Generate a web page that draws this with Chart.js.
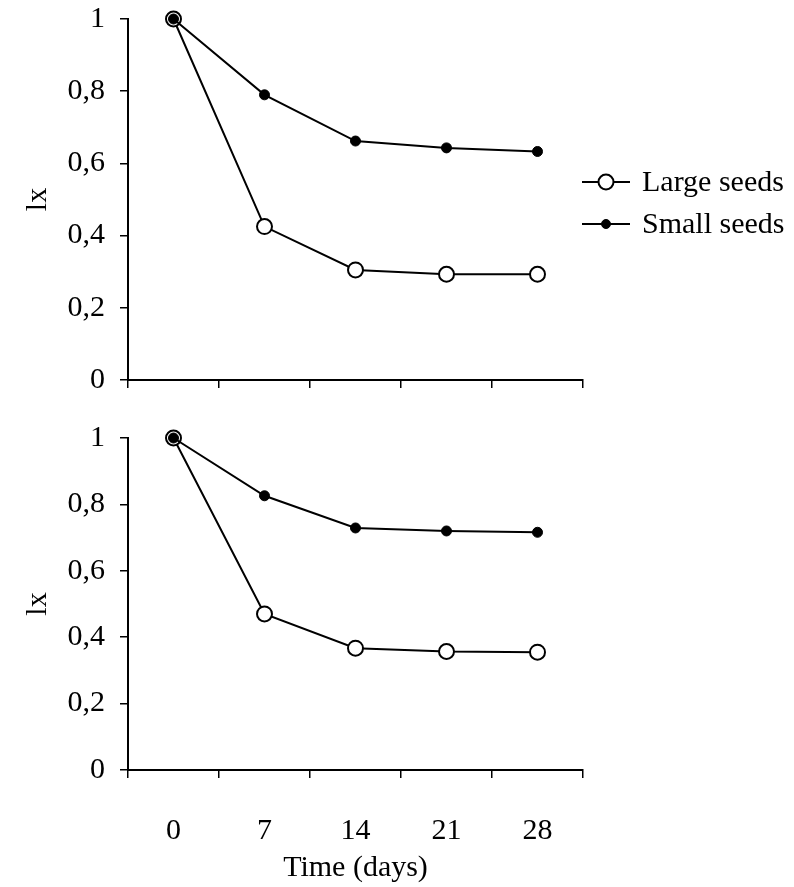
<!DOCTYPE html>
<html>
<head>
<meta charset="utf-8">
<script src="https://cdn.jsdelivr.net/npm/chart.js@4/dist/chart.umd.min.js"></script>
<style>
    body { margin: 0; background: white; }
    #wrap { position: relative; width: 794px; height: 887px; overflow: hidden; }
    canvas { position: absolute; left: 0; }
    /* Chart.js keeps ~33px above the plot for the "1" label, so the canvases are shifted up */
    #top-chart { top: -14px; }
    #bottom-chart { top: 405px; }
</style>
</head>
<body>
<div id="wrap">
    <canvas id="top-chart" width="794" height="434"></canvas>
    <canvas id="bottom-chart" width="794" height="482"></canvas>
</div>
<script>
const days = ["0", "7", "14", "21", "28"]
const seriesNames = ["Large seeds", "Small seeds"]

// upper panel
const topLarge = [1, 0.425, 0.305, 0.293, 0.293]
const topSmall = [1, 0.79, 0.662, 0.643, 0.633]

// lower panel
const bottomLarge = [1, 0.47, 0.367, 0.357, 0.355]
const bottomSmall = [1, 0.826, 0.729, 0.72, 0.716]

const yTicks = [0, 0.2, 0.4, 0.6, 0.8, 1]

const FONT = "'Liberation Serif', 'Times New Roman', serif"
const FONT_SIZE = 30

function whiteBackgroundPlugin() {
    return {
        id: "whiteBackground",
        beforeDraw: (chart) => {
            const { ctx, canvas } = chart
            ctx.save()
            ctx.globalCompositeOperation = "destination-over"
            ctx.fillStyle = "white"
            ctx.fillRect(0, 0, canvas.width, canvas.height)
            ctx.restore()
        }
    }
}

function drawMarker(ctx, ds, x, y, r) {
    ctx.beginPath()
    ctx.arc(x, y, r, 0, Math.PI * 2)
    ctx.fillStyle = ds.pointBackgroundColor
    ctx.fill()
    ctx.lineWidth = ds.pointBorderWidth
    ctx.strokeStyle = ds.pointBorderColor
    ctx.stroke()
}

// line-with-marker legend, like the original figure
function sideLegendPlugin() {
    return {
        id: "sideLegend",
        afterDraw: (chart, args, options) => {
            if (!options || !options.display) return
            const ctx = chart.ctx
            const rows = [...chart.data.datasets].sort((a, b) => a.legendIndex - b.legendIndex)

            ctx.save()
            rows.forEach((ds, i) => {
                const y = options.y + i * options.rowGap
                ctx.beginPath()
                ctx.moveTo(options.x, y)
                ctx.lineTo(options.x + options.lineLength, y)
                ctx.lineWidth = ds.borderWidth
                ctx.strokeStyle = ds.borderColor
                ctx.stroke()
                drawMarker(ctx, ds, options.x + options.lineLength / 2, y, ds.legendRadius)

                ctx.fillStyle = "#000"
                ctx.font = `${FONT_SIZE}px ${FONT}`
                ctx.textAlign = "left"
                ctx.textBaseline = "middle"
                ctx.fillText(ds.label, options.x + options.lineLength + 12, y + 1)
            })
            ctx.restore()
        }
    }
}

function fmtTick(v) {
    const r = Math.round(v * 10) / 10
    return String(r).replace(".", ",")
}

function buildDatasets(large, small) {
    return [
        {
            label: seriesNames[0],
            legendIndex: 0,
            data: large,
            order: 2,
            borderColor: "#000",
            borderWidth: 2,
            pointRadius: 7.5,
            pointBorderWidth: 2,
            pointBackgroundColor: "#fff",
            pointBorderColor: "#000",
            legendRadius: 7.5,
            tension: 0,
            clip: false
        },
        {
            label: seriesNames[1],
            legendIndex: 1,
            data: small,
            order: 1,
            borderColor: "#000",
            borderWidth: 2,
            pointRadius: 5,
            pointBorderWidth: 1,
            pointBackgroundColor: "#000",
            pointBorderColor: "#000",
            legendRadius: 4.5,
            tension: 0,
            clip: false
        }
    ]
}

function makeChart(canvasId, large, small, cfg) {
    const canvas = document.getElementById(canvasId)

    return new Chart(canvas.getContext("2d"), {
        type: "line",
        data: { labels: days, datasets: buildDatasets(large, small) },
        options: {
            responsive: false,
            animation: false,
            layout: { padding: { left: 0, right: 211, top: 0, bottom: 0 } },
            plugins: {
                legend: { display: false },
                tooltip: { enabled: false },
                sideLegend: cfg.legend
            },
            scales: {
                x: {
                    type: "category",
                    offset: true,
                    grid: {
                        offset: true,
                        drawOnChartArea: false,
                        drawTicks: true,
                        tickLength: 8,
                        color: "#000",
                        lineWidth: 1.5
                    },
                    border: { display: true, color: "#000", width: 2 },
                    ticks: {
                        display: cfg.showXLabels,
                        color: "#000",
                        padding: 35,
                        font: { family: FONT, size: FONT_SIZE }
                    },
                    title: {
                        display: cfg.showXLabels,
                        text: "Time (days)",
                        color: "#000",
                        padding: { top: 0, bottom: 1 },
                        font: { family: FONT, size: FONT_SIZE }
                    },
                    afterFit: (scale) => { scale.height = cfg.xHeight }
                },
                y: {
                    min: 0,
                    max: 1,
                    afterBuildTicks: (scale) => { scale.ticks = yTicks.map(v => ({ value: v })) },
                    grid: {
                        drawOnChartArea: false,
                        drawTicks: true,
                        tickLength: 8,
                        color: "#000",
                        lineWidth: 1.5
                    },
                    border: { display: true, color: "#000", width: 2 },
                    ticks: {
                        color: "#000",
                        padding: 15,
                        font: { family: FONT, size: FONT_SIZE },
                        callback: (v) => fmtTick(v)
                    },
                    title: {
                        display: true,
                        text: "lx",
                        color: "#000",
                        padding: { top: 20, bottom: 0 },
                        font: { family: FONT, size: FONT_SIZE }
                    },
                    afterFit: (scale) => { scale.width = 128 }
                }
            }
        },
        plugins: [whiteBackgroundPlugin(), sideLegendPlugin()]
    })
}

makeChart("top-chart", topLarge, topSmall, {
    xHeight: 40,
    showXLabels: false,
    legend: { display: true, x: 582, y: 196, rowGap: 42, lineLength: 48 }
})

makeChart("bottom-chart", bottomLarge, bottomSmall, {
    xHeight: 117,
    showXLabels: true,
    legend: { display: false }
})
</script>
</body>
</html>
